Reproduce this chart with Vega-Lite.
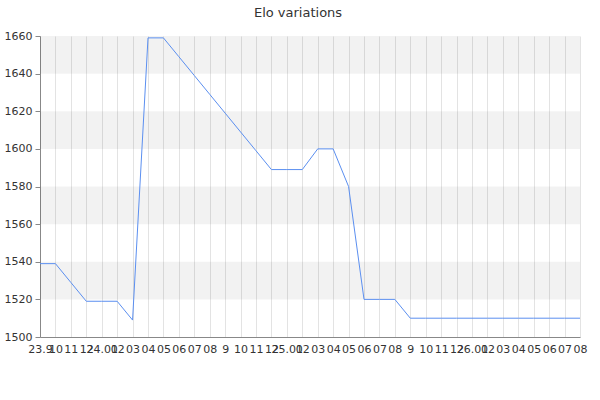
{
  "$schema": "https://vega.github.io/schema/vega-lite/v6.json",
  "description": "Elo variations by month",
  "autosize": "none",
  "width": 540,
  "height": 301,
  "padding": {"left": 40, "top": 36, "right": 20, "bottom": 63},
  "title": {
    "text": "Elo variations",
    "font": "DejaVu Sans",
    "fontSize": 13,
    "fontWeight": "normal",
    "color": "#333333",
    "anchor": "middle",
    "dx": -12,
    "offset": 10
  },
  "config": {
    "view": {"stroke": null},
    "axis": {
      "labelFont": "DejaVu Sans",
      "labelFontSize": 11,
      "labelColor": "#333333",
      "domainColor": "#888888",
      "tickColor": "#888888",
      "gridColor": "#e3e3e3",
      "title": null
    },
    "axisY": {
      "values": [1500, 1510, 1520, 1530, 1540, 1550, 1560, 1570, 1580, 1590, 1600, 1610, 1620, 1630, 1640, 1650, 1660],
      "format": "d",
      "labelOverlap": false,
      "labelExpr": "datum.value % 20 == 0 ? datum.label : ''",
      "tickSize": {"condition": {"test": "datum.value % 20 == 0", "value": 5}, "value": 3},
      "gridOpacity": {"condition": {"test": "datum.value % 20 == 0", "value": 1}, "value": 0},
      "labelPadding": 3
    }
  },
  "datasets": {
    "elo": [
      {"month": "2023-09", "elo": 1539},
      {"month": "2023-10", "elo": 1539},
      {"month": "2023-11", "elo": 1529},
      {"month": "2023-12", "elo": 1519},
      {"month": "2024-01", "elo": 1519},
      {"month": "2024-02", "elo": 1519},
      {"month": "2024-03", "elo": 1509},
      {"month": "2024-04", "elo": 1659},
      {"month": "2024-05", "elo": 1659},
      {"month": "2024-06", "elo": 1649},
      {"month": "2024-07", "elo": 1639},
      {"month": "2024-08", "elo": 1629},
      {"month": "2024-09", "elo": 1619},
      {"month": "2024-10", "elo": 1609},
      {"month": "2024-11", "elo": 1599},
      {"month": "2024-12", "elo": 1589},
      {"month": "2025-01", "elo": 1589},
      {"month": "2025-02", "elo": 1589},
      {"month": "2025-03", "elo": 1600},
      {"month": "2025-04", "elo": 1600},
      {"month": "2025-05", "elo": 1580},
      {"month": "2025-06", "elo": 1520},
      {"month": "2025-07", "elo": 1520},
      {"month": "2025-08", "elo": 1520},
      {"month": "2025-09", "elo": 1510},
      {"month": "2025-10", "elo": 1510},
      {"month": "2025-11", "elo": 1510},
      {"month": "2025-12", "elo": 1510},
      {"month": "2026-01", "elo": 1510},
      {"month": "2026-02", "elo": 1510},
      {"month": "2026-03", "elo": 1510},
      {"month": "2026-04", "elo": 1510},
      {"month": "2026-05", "elo": 1510},
      {"month": "2026-06", "elo": 1510},
      {"month": "2026-07", "elo": 1510},
      {"month": "2026-08", "elo": 1510}
    ],
    "bands": [
      {"from": 1520, "to": 1540},
      {"from": 1560, "to": 1580},
      {"from": 1600, "to": 1620},
      {"from": 1640, "to": 1660}
    ]
  },
  "layer": [
    {
      "data": {"name": "bands"},
      "mark": {"type": "rect", "color": "#000000", "opacity": 0.05},
      "encoding": {
        "y": {"field": "from", "type": "quantitative", "scale": {"domain": [1500, 1660], "nice": false, "zero": false}},
        "y2": {"field": "to"}
      }
    },
    {
      "data": {"name": "elo"},
      "mark": {"type": "line", "color": "#5b8ff0", "strokeWidth": 1},
      "encoding": {
        "x": {
          "field": "month",
          "type": "ordinal",
          "sort": null,
          "scale": {"type": "point", "padding": 0},
          "axis": {
            "labelAngle": 0,
            "grid": true,
            "ticks": false,
            "domain": true,
            "labelPadding": 6,
            "labelOverlap": false,
            "labelExpr": "datum.value == '2023-09' ? '23.9' : substring(datum.value, 5, 7) == '01' ? substring(datum.value, 2, 4) + '.01' : substring(datum.value, 5, 7) == '09' ? '9' : substring(datum.value, 5, 7)"
          }
        },
        "y": {
          "field": "elo",
          "type": "quantitative",
          "scale": {"domain": [1500, 1660], "nice": false, "zero": false}
        }
      }
    }
  ]
}
